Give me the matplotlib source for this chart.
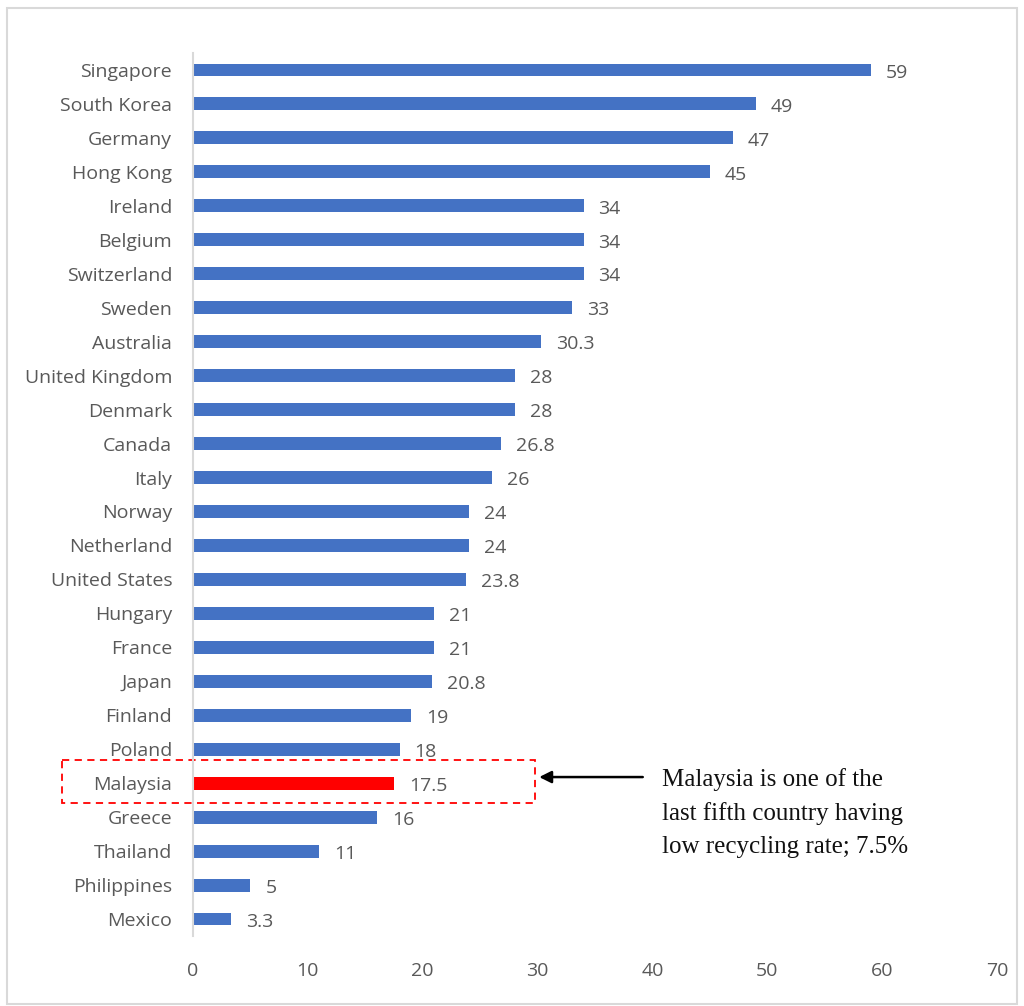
import matplotlib
matplotlib.use("Agg")
import matplotlib.pyplot as plt
from matplotlib.patches import Rectangle

countries = ["Singapore", "South Korea", "Germany", "Hong Kong", "Ireland", "Belgium",
             "Switzerland", "Sweden", "Australia", "United Kingdom", "Denmark", "Canada",
             "Italy", "Norway", "Netherland", "United States", "Hungary", "France", "Japan",
             "Finland", "Poland", "Malaysia", "Greece", "Thailand", "Philippines", "Mexico"]
rates = [59, 49, 47, 45, 34, 34, 34, 33, 30.3, 28, 28, 26.8, 26, 24, 24, 23.8, 21, 21,
         20.8, 19, 18, 17.5, 16, 11, 5, 3.3]
value_labels = ["59", "49", "47", "45", "34", "34", "34", "33", "30.3", "28", "28", "26.8",
                "26", "24", "24", "23.8", "21", "21", "20.8", "19", "18", "17.5", "16", "11",
                "5", "3.3"]
xticks = [0, 10, 20, 30, 40, 50, 60, 70]
highlight = "Malaysia"
note = "Malaysia is one of the\nlast fifth country having\nlow recycling rate; 7.5%"

plt.rcParams['font.family'] = ['Open Sans', 'DejaVu Sans']
gray = "#595959"

fig = plt.figure(figsize=(10.24, 10.06), dpi=100)
ax = fig.add_axes([193/1024, 1-936/1006, (997-193)/1024, (936-53)/1006])

colors = ["#FF0000" if c == highlight else "#4472C4" for c in countries]
ypos = list(range(len(countries)))
ax.barh(ypos, rates, height=0.38, color=colors)
ax.set_ylim(len(countries) - 0.5, -0.5)
ax.set_xlim(0, 70)
ax.set_yticks(ypos)
ax.set_yticklabels(countries, fontsize=14, color=gray)
ax.set_xticks(xticks)
ax.set_xticklabels([str(t) for t in xticks], fontsize=14, color=gray)
ax.tick_params(axis='both', length=0)
ax.tick_params(axis='y', pad=15)
ax.tick_params(axis='x', pad=19)
for s in ["top", "right", "bottom"]:
    ax.spines[s].set_visible(False)
ax.spines["left"].set_color("#D9D9D9")
ax.spines["left"].set_linewidth(1.5)

for y, v, lab in zip(ypos, rates, value_labels):
    ax.text(v + 1.3, y + 0.08, lab, va="center", ha="left", fontsize=14, color=gray)

mi = countries.index(highlight)
ax.add_patch(Rectangle((-11.4, mi - 0.68), 41.2, 1.27, fill=False, edgecolor="#FF0000",
                       linestyle=(0, (4, 3)), linewidth=1.3, clip_on=False))
ax.annotate("", xy=(29.9, mi - 0.18), xytext=(39.4, mi - 0.18),
            arrowprops=dict(arrowstyle="-|>", color="black", lw=1.8, mutation_scale=18),
            annotation_clip=False)
ax.text(40.8, mi - 0.45, note, fontsize=18, family="Liberation Serif", va="top",
        ha="left", color="#111111", linespacing=1.62)

fig.add_artist(Rectangle((7/1024, 1-1004/1006), 1010/1024, 996/1006, transform=fig.transFigure,
                         fill=False, edgecolor="#D9D9D9", linewidth=1.5))

fig.savefig("out.png", dpi=100, facecolor="white")
